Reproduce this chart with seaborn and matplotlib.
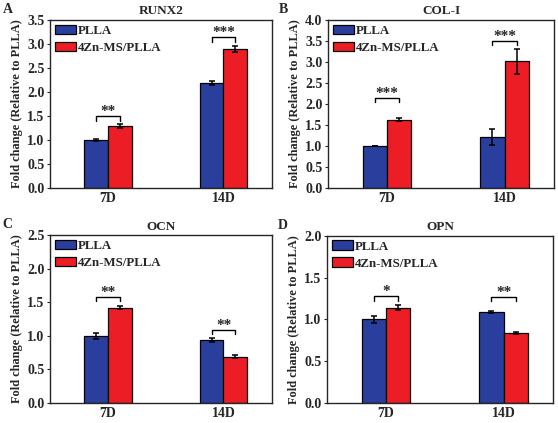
import pandas as pd
import seaborn as sns
import matplotlib.pyplot as plt
from matplotlib.ticker import FormatStrFormatter

days = ['7D', '14D']
groups = ['PLLA', '4Zn-MS/PLLA']
colors = ['#2A3F9D', '#EC1D25']

# mean values per gene: [7D, 14D]
runx2_plla = [1.00, 2.19]
runx2_zn = [1.30, 2.89]
runx2_plla_err = [0.02, 0.04]
runx2_zn_err = [0.04, 0.06]

col1_plla = [1.00, 1.22]
col1_zn = [1.63, 3.02]
col1_plla_err = [0.01, 0.19]
col1_zn_err = [0.03, 0.30]

ocn_plla = [1.00, 0.94]
ocn_zn = [1.42, 0.69]
ocn_plla_err = [0.04, 0.03]
ocn_zn_err = [0.02, 0.02]

opn_plla = [1.00, 1.09]
opn_zn = [1.14, 0.84]
opn_plla_err = [0.04, 0.01]
opn_zn_err = [0.03, 0.01]

# significance: (day index, bracket height, stars)
runx2_sig = [(0, 1.50, '**'), (1, 3.14, '***')]
col1_sig = [(0, 2.15, '***'), (1, 3.51, '***')]
ocn_sig = [(0, 1.58, '**'), (1, 1.09, '**')]
opn_sig = [(0, 1.28, '*'), (1, 1.27, '**')]

sns.set_style('ticks')
plt.rcParams['font.family'] = ['Liberation Serif', 'DejaVu Serif']
plt.rcParams['font.weight'] = 'bold'
plt.rcParams['axes.labelweight'] = 'bold'
plt.rcParams['axes.titleweight'] = 'bold'

fig = plt.figure(figsize=(5.58, 4.23), dpi=100)

panels = [
    ('A', 'RUNX2', runx2_plla, runx2_zn, runx2_plla_err, runx2_zn_err, runx2_sig, 3.5,
     [0.0896, 0.5556, 0.398, 0.397]),
    ('B', 'COL-I', col1_plla, col1_zn, col1_plla_err, col1_zn_err, col1_sig, 4.0,
     [0.5878, 0.5556, 0.405, 0.397]),
    ('C', 'OCN', ocn_plla, ocn_zn, ocn_plla_err, ocn_zn_err, ocn_sig, 2.5,
     [0.0896, 0.0473, 0.398, 0.397]),
    ('D', 'OPN', opn_plla, opn_zn, opn_plla_err, opn_zn_err, opn_sig, 2.0,
     [0.586, 0.0473, 0.405, 0.395]),
]

for letter, title, plla, zn, plla_err, zn_err, sig, ymax, pos in panels:
    ax = fig.add_axes(pos)
    df = pd.DataFrame({
        'Day': days + days,
        'Group': [groups[0]] * 2 + [groups[1]] * 2,
        'Value': plla + zn,
    })
    sns.barplot(data=df, x='Day', y='Value', hue='Group', hue_order=groups,
                palette=colors, width=0.41, errorbar=None, edgecolor='black',
                linewidth=0.9, saturation=1, ax=ax)

    errs = [plla_err, zn_err]
    bar_groups = list(ax.containers)
    centers = []
    for i, cont in enumerate(bar_groups):
        xs = [b.get_x() + b.get_width() / 2 for b in cont]
        ys = [b.get_height() for b in cont]
        centers.append(xs)
        ax.errorbar(xs, ys, yerr=errs[i], fmt='none', ecolor='black',
                    elinewidth=1.1, capsize=2.5, capthick=1.1)

    drop = ymax * 0.027
    for d, h, stars in sig:
        x1 = centers[0][d]
        x2 = centers[1][d]
        ax.plot([x1, x1, x2, x2], [h - drop, h, h, h - drop], color='black', lw=1.0)
        ax.text((x1 + x2) / 2, h - ymax * 0.012, stars, ha='center', va='bottom',
                fontsize=11, fontweight='bold')

    ax.set_xlim(-0.5, 1.42)
    ax.set_ylim(0, ymax)
    ax.set_yticks([i * 0.5 for i in range(int(ymax / 0.5) + 1)])
    ax.yaxis.set_major_formatter(FormatStrFormatter('%.1f'))
    ax.set_xlabel('')
    ax.set_ylabel('Fold change (Relative to PLLA)', fontsize=8.9, labelpad=3)
    ax.set_title(title, fontsize=9.5, pad=4)
    ax.tick_params(axis='x', direction='in', length=3, labelsize=10, pad=3)
    ax.tick_params(axis='y', direction='out', length=2.5, labelsize=10, pad=1.5)
    for sp in ax.spines.values():
        sp.set_visible(True)
        sp.set_linewidth(1.0)

    ax.legend(loc='upper left', frameon=False, fontsize=9.3, handlelength=1.7,
              handleheight=0.8, handletextpad=0.1, borderaxespad=0.15,
              labelspacing=0.35, borderpad=0.2)

    fig.text(pos[0] - 0.085 if letter in 'AC' else pos[0] - 0.088,
             pos[1] + pos[3] + 0.025, letter, fontsize=10, fontweight='bold',
             ha='left', va='center')

fig.savefig('out.png', dpi=100)
